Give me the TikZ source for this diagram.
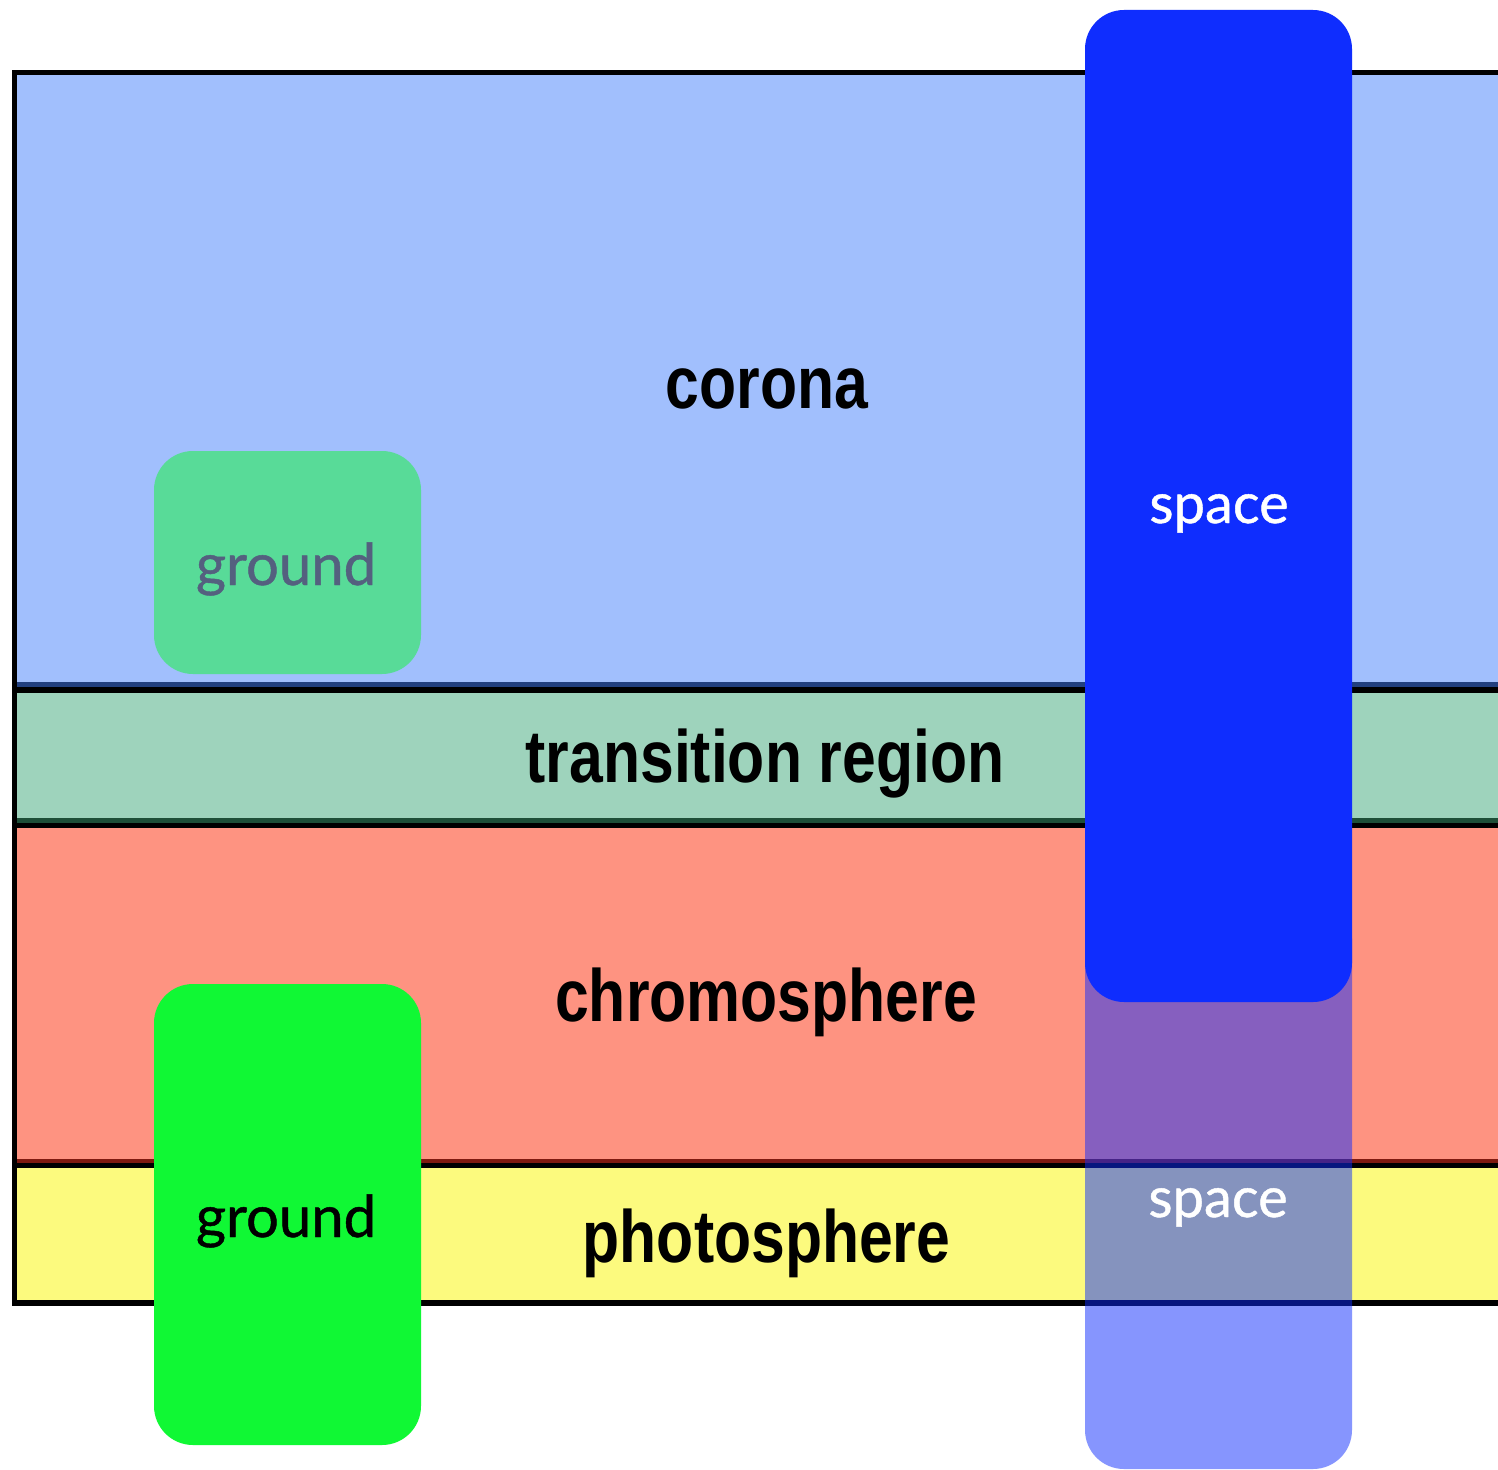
\documentclass[tikz,border=0pt]{standalone}
\usepackage{fontspec}
\setmainfont{Liberation Sans}
\newfontfamily\layerfont{Liberation Sans}[FakeStretch=0.82]
\newfontfamily\boxfont{Lato}[FakeBold=0.8]
\definecolor{coronafill}{HTML}{A1BFFD}
\definecolor{coronadark}{HTML}{22407F}
\definecolor{transfill}{HTML}{9ED3BC}
\definecolor{transdark}{HTML}{1E4F38}
\definecolor{chromofill}{HTML}{FE9381}
\definecolor{chromodark}{HTML}{7F1A10}
\definecolor{photofill}{HTML}{FCFA7E}
\definecolor{fadedground}{HTML}{58DB98}
\definecolor{fadedtext}{HTML}{54607F}
\definecolor{groundgreen}{HTML}{10F834}
\definecolor{spaceblue}{HTML}{0F2DFE}
\tikzset{
  layerlabel/.style={anchor=base, inner sep=0pt, font=\layerfont\bfseries\fontsize{74}{80}\selectfont, text=black},
  boxlabel/.style={anchor=base, inner sep=0pt, font=\boxfont\fontsize{56}{62}\selectfont},
  groundlabel/.style={boxlabel, font=\boxfont\fontsize{58}{64}\selectfont},
  roundbox/.style={rounded corners=39pt},
  blackline/.style={line width=5.5pt, draw=black},
}
\begin{document}
\begin{tikzpicture}[x=1pt,y=-1pt]
\useasboundingbox (0,0) rectangle (1498,1469);
\fill[white] (0,0) rectangle (1498,1469);
\begin{scope}
\clip (0,0) rectangle (1498,1469);
% layers
\fill[coronafill] (14.5,72.5) rectangle (1520,690);
\fill[transfill] (14.5,690) rectangle (1520,825.5);
\fill[chromofill] (14.5,825.5) rectangle (1520,1165.5);
\fill[photofill] (14.5,1165.5) rectangle (1520,1303);
% darker strips under each layer
\draw[coronadark, line width=5pt] (14.5,684.5) -- (1520,684.5);
\draw[transdark, line width=5pt] (14.5,820.5) -- (1520,820.5);
\draw[chromodark, line width=4pt] (14.5,1161) -- (1520,1161);
% black borders
\draw[blackline] (1520,72.5) -- (14.5,72.5) -- (14.5,1303) -- (1520,1303);
\draw[blackline] (14.5,690) -- (1520,690);
\draw[blackline] (14.5,825.5) -- (1520,825.5);
\draw[blackline] (14.5,1165.5) -- (1520,1165.5);
% layer labels
\node[layerlabel] (corona) at (767,408) {corona};
\node[layerlabel] (transition) at (765,782) {transition region};
\node[layerlabel] (chromo) at (766,1021) {chromosphere};
\node[layerlabel] (photo) at (766.5,1262) {photosphere};
% ground boxes
\fill[fadedground, roundbox] (154,451) rectangle (421,674);
\node[groundlabel, text=fadedtext] (groundA) at (286,585) {ground};
\fill[groundgreen, roundbox] (154,984) rectangle (421,1445);
\node[groundlabel, text=black] (groundB) at (286,1237) {ground};
% space boxes
\fill[spaceblue, opacity=0.5, roundbox] (1085,900) rectangle (1352,1469);
\fill[spaceblue, roundbox] (1085,10) rectangle (1352,1002);
\node[boxlabel, text=white] (spaceA) at (1219,523) {space};
\node[boxlabel, text=white] (spaceB) at (1218,1217) {space};
\end{scope}
\end{tikzpicture}
\end{document}
